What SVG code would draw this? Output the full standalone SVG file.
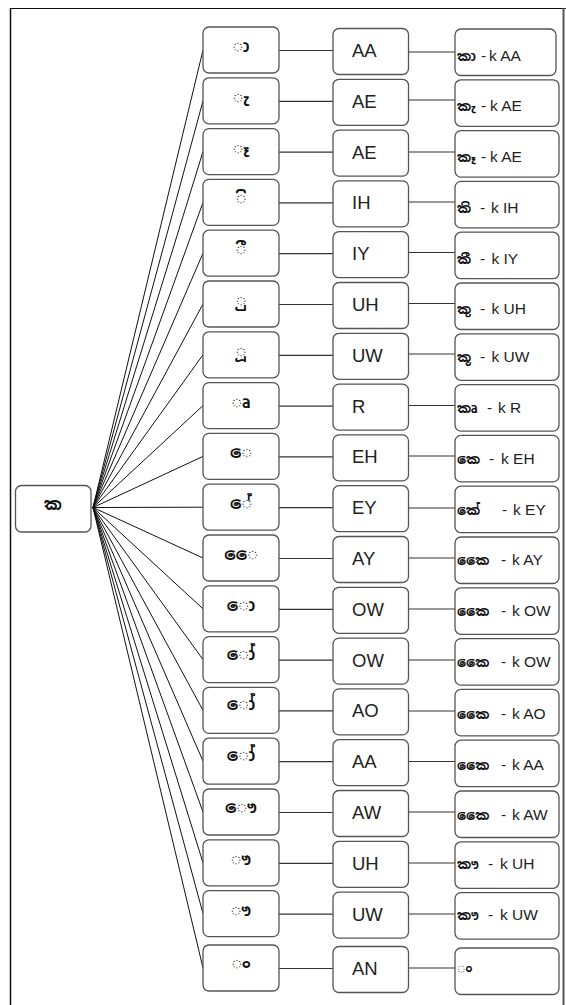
<svg xmlns="http://www.w3.org/2000/svg" width="566" height="1005" viewBox="0 0 566 1005">
<style>
.box{fill:#fff;stroke:#555;stroke-width:1.3}
.fan line{stroke:#111;stroke-width:1}
.link{stroke:#333;stroke-width:1.2}
.si{font-family:"Noto Sans Sinhala","Iskoola Pota","Noto Sans","DejaVu Sans",sans-serif;font-weight:bold;font-size:17px;text-anchor:middle;fill:#111}
.ph{font-family:"Liberation Sans",Arial,sans-serif;font-size:18.5px;fill:#222}
.ex{font-family:"Liberation Sans",Arial,sans-serif;font-size:15.5px;fill:#222}
.ex .s{font-family:"Noto Sans Sinhala","Iskoola Pota",sans-serif;font-size:13.5px;font-weight:bold;fill:#111}
</style>
<rect x="0" y="0" width="566" height="1005" fill="#fff"/>
<g id="frame">
<line x1="10" y1="8.5" x2="566" y2="8.5" stroke="#111" stroke-width="1.2"/>
<line x1="10.5" y1="8" x2="10.5" y2="1005" stroke="#111" stroke-width="1.5"/>
<line x1="563.5" y1="8" x2="563.5" y2="1005" stroke="#555" stroke-width="2"/>
</g>
<g id="connectors">
<g class="fan">
<line x1="93" y1="507.5" x2="203" y2="50"/>
<line x1="93" y1="507.5" x2="203" y2="100.8"/>
<line x1="93" y1="507.5" x2="203" y2="151.6"/>
<line x1="93" y1="507.5" x2="203" y2="202.4"/>
<line x1="93" y1="507.5" x2="203" y2="253.2"/>
<line x1="93" y1="507.5" x2="203" y2="304"/>
<line x1="93" y1="507.5" x2="203" y2="354.8"/>
<line x1="93" y1="507.5" x2="203" y2="405.6"/>
<line x1="93" y1="507.5" x2="203" y2="456.4"/>
<line x1="93" y1="507.5" x2="203" y2="507.2"/>
<line x1="93" y1="507.5" x2="203" y2="558"/>
<line x1="93" y1="507.5" x2="203" y2="608.8"/>
<line x1="93" y1="507.5" x2="203" y2="659.6"/>
<line x1="93" y1="507.5" x2="203" y2="710.4"/>
<line x1="93" y1="507.5" x2="203" y2="761.2"/>
<line x1="93" y1="507.5" x2="203" y2="812"/>
<line x1="93" y1="507.5" x2="203" y2="862.8"/>
<line x1="93" y1="507.5" x2="203" y2="913.6"/>
<line x1="93" y1="507.5" x2="203" y2="968"/>
</g>
<g class="link">
<line x1="279" y1="50.5" x2="333" y2="50.5"/><line x1="408.5" y1="52" x2="455" y2="52"/>
<line x1="279" y1="101.3" x2="333" y2="101.3"/><line x1="408.5" y1="100" x2="455" y2="100"/>
<line x1="279" y1="152.1" x2="333" y2="152.1"/><line x1="408.5" y1="152" x2="455" y2="152"/>
<line x1="279" y1="202.9" x2="333" y2="202.9"/><line x1="408.5" y1="202" x2="455" y2="202"/>
<line x1="279" y1="253.7" x2="333" y2="253.7"/><line x1="408.5" y1="252.5" x2="455" y2="252.5"/>
<line x1="279" y1="304.5" x2="333" y2="304.5"/><line x1="408.5" y1="303.5" x2="455" y2="303.5"/>
<line x1="279" y1="355.3" x2="333" y2="355.3"/><line x1="408.5" y1="354" x2="455" y2="354"/>
<line x1="279" y1="406.1" x2="333" y2="406.1"/><line x1="408.5" y1="405.5" x2="455" y2="405.5"/>
<line x1="279" y1="456.9" x2="333" y2="456.9"/><line x1="408.5" y1="456" x2="455" y2="456"/>
<line x1="279" y1="507.7" x2="333" y2="507.7"/><line x1="408.5" y1="508" x2="455" y2="508"/>
<line x1="279" y1="558.5" x2="333" y2="558.5"/><line x1="408.5" y1="558" x2="455" y2="558"/>
<line x1="279" y1="609.3" x2="333" y2="609.3"/><line x1="408.5" y1="609" x2="455" y2="609"/>
<line x1="279" y1="660.1" x2="333" y2="660.1"/><line x1="408.5" y1="660" x2="455" y2="660"/>
<line x1="279" y1="710.9" x2="333" y2="710.9"/><line x1="408.5" y1="711" x2="455" y2="711"/>
<line x1="279" y1="761.7" x2="333" y2="761.7"/><line x1="408.5" y1="761.5" x2="455" y2="761.5"/>
<line x1="279" y1="812.5" x2="333" y2="812.5"/><line x1="408.5" y1="812" x2="455" y2="812"/>
<line x1="279" y1="863.3" x2="333" y2="863.3"/><line x1="408.5" y1="863" x2="455" y2="863"/>
<line x1="279" y1="914.1" x2="333" y2="914.1"/><line x1="408.5" y1="914" x2="455" y2="914"/>
<line x1="279" y1="968.5" x2="333" y2="968.5"/><line x1="408.5" y1="968" x2="455" y2="968"/>
</g>
</g>
<g id="root"><rect class="box" x="15.5" y="485.5" width="75.5" height="46.5" rx="6"/><text class="si" x="53" y="510">ක</text></g>

<g id="v1"><rect class="box" x="203" y="27" width="76" height="46" rx="6"/><text class="si" x="241" y="52">ා</text></g>
<g id="v2"><rect class="box" x="203" y="77.8" width="76" height="46" rx="6"/><text class="si" x="241" y="102.8">ැ</text></g>
<g id="v3"><rect class="box" x="203" y="128.6" width="76" height="46" rx="6"/><text class="si" x="241" y="153.6">ෑ</text></g>
<g id="v4"><rect class="box" x="203" y="179.4" width="76" height="46" rx="6"/><text class="si" x="241" y="204.4">ි</text></g>
<g id="v5"><rect class="box" x="203" y="230.2" width="76" height="46" rx="6"/><text class="si" x="241" y="255.2">ී</text></g>
<g id="v6"><rect class="box" x="203" y="281" width="76" height="46" rx="6"/><text class="si" x="241" y="306">ු</text></g>
<g id="v7"><rect class="box" x="203" y="331.8" width="76" height="46" rx="6"/><text class="si" x="241" y="356.8">ූ</text></g>
<g id="v8"><rect class="box" x="203" y="382.6" width="76" height="46" rx="6"/><text class="si" x="241" y="407.6">ෘ</text></g>
<g id="v9"><rect class="box" x="203" y="433.4" width="76" height="46" rx="6"/><text class="si" x="241" y="458.4">ෙ</text></g>
<g id="v10"><rect class="box" x="203" y="484.2" width="76" height="46" rx="6"/><text class="si" x="241" y="509.2">ේ</text></g>
<g id="v11"><rect class="box" x="203" y="535" width="76" height="46" rx="6"/><text class="si" x="241" y="560">ෛ</text></g>
<g id="v12"><rect class="box" x="203" y="585.8" width="76" height="46" rx="6"/><text class="si" x="241" y="610.8">ො</text></g>
<g id="v13"><rect class="box" x="203" y="636.6" width="76" height="46" rx="6"/><text class="si" x="241" y="659.6">ෝ</text></g>
<g id="v14"><rect class="box" x="203" y="687.4" width="76" height="46" rx="6"/><text class="si" x="241" y="710.4">ෝ</text></g>
<g id="v15"><rect class="box" x="203" y="738.2" width="76" height="46" rx="6"/><text class="si" x="241" y="761.2">ෝ</text></g>
<g id="v16"><rect class="box" x="203" y="789" width="76" height="46" rx="6"/><text class="si" x="241" y="813">ෞ</text></g>
<g id="v17"><rect class="box" x="203" y="839.8" width="76" height="46" rx="6"/><text class="si" x="241" y="864.8">ෟ</text></g>
<g id="v18"><rect class="box" x="203" y="890.6" width="76" height="46" rx="6"/><text class="si" x="241" y="915.6">ෟ</text></g>
<g id="v19"><rect class="box" x="203" y="945" width="76" height="46" rx="6"/><text class="si" x="241" y="969">ං</text></g>

<g id="p1"><rect class="box" x="333" y="28.5" width="75.5" height="46" rx="6"/><text class="ph" x="352" y="57">AA</text></g>
<g id="p2"><rect class="box" x="333" y="79.3" width="75.5" height="46" rx="6"/><text class="ph" x="352" y="107.8">AE</text></g>
<g id="p3"><rect class="box" x="333" y="130.1" width="75.5" height="46" rx="6"/><text class="ph" x="352" y="158.6">AE</text></g>
<g id="p4"><rect class="box" x="333" y="180.9" width="75.5" height="46" rx="6"/><text class="ph" x="352" y="209.4">IH</text></g>
<g id="p5"><rect class="box" x="333" y="231.7" width="75.5" height="46" rx="6"/><text class="ph" x="352" y="260.2">IY</text></g>
<g id="p6"><rect class="box" x="333" y="282.5" width="75.5" height="46" rx="6"/><text class="ph" x="352" y="311">UH</text></g>
<g id="p7"><rect class="box" x="333" y="333.3" width="75.5" height="46" rx="6"/><text class="ph" x="352" y="361.8">UW</text></g>
<g id="p8"><rect class="box" x="333" y="384.1" width="75.5" height="46" rx="6"/><text class="ph" x="352" y="412.6">R</text></g>
<g id="p9"><rect class="box" x="333" y="434.9" width="75.5" height="46" rx="6"/><text class="ph" x="352" y="463.4">EH</text></g>
<g id="p10"><rect class="box" x="333" y="485.7" width="75.5" height="46" rx="6"/><text class="ph" x="352" y="514.2">EY</text></g>
<g id="p11"><rect class="box" x="333" y="536.5" width="75.5" height="46" rx="6"/><text class="ph" x="352" y="565">AY</text></g>
<g id="p12"><rect class="box" x="333" y="587.3" width="75.5" height="46" rx="6"/><text class="ph" x="352" y="615.8">OW</text></g>
<g id="p13"><rect class="box" x="333" y="638.1" width="75.5" height="46" rx="6"/><text class="ph" x="352" y="666.6">OW</text></g>
<g id="p14"><rect class="box" x="333" y="688.9" width="75.5" height="46" rx="6"/><text class="ph" x="352" y="717.4">AO</text></g>
<g id="p15"><rect class="box" x="333" y="739.7" width="75.5" height="46" rx="6"/><text class="ph" x="352" y="768.2">AA</text></g>
<g id="p16"><rect class="box" x="333" y="790.5" width="75.5" height="46" rx="6"/><text class="ph" x="352" y="819">AW</text></g>
<g id="p17"><rect class="box" x="333" y="841.3" width="75.5" height="46" rx="6"/><text class="ph" x="352" y="869.8">UH</text></g>
<g id="p18"><rect class="box" x="333" y="892.1" width="75.5" height="46" rx="6"/><text class="ph" x="352" y="920.6">UW</text></g>
<g id="p19"><rect class="box" x="333" y="946.5" width="75.5" height="46" rx="6"/><text class="ph" x="352" y="975">AN</text></g>

<g id="e1"><rect class="box" x="455" y="29" width="101" height="46.5" rx="6"/><text class="ex" x="457" y="61"><tspan class="s">කා</tspan> <tspan x="481">- </tspan><tspan x="489">k AA</tspan></text></g>
<g id="e2"><rect class="box" x="455" y="79.8" width="104" height="46.5" rx="6"/><text class="ex" x="457" y="110.5"><tspan class="s">කැ</tspan> <tspan x="481">- </tspan><tspan x="490">k AE</tspan></text></g>
<g id="e3"><rect class="box" x="455" y="130.6" width="104" height="46.5" rx="6"/><text class="ex" x="457" y="161.5"><tspan class="s">කෑ</tspan> <tspan x="481">- </tspan><tspan x="490">k AE</tspan></text></g>
<g id="e4"><rect class="box" x="455" y="181.4" width="104" height="46.5" rx="6"/><text class="ex" x="457" y="213"><tspan class="s">කි</tspan> <tspan x="480">- </tspan><tspan x="491">k IH</tspan></text></g>
<g id="e5"><rect class="box" x="455" y="232.2" width="104" height="46.5" rx="6"/><text class="ex" x="457" y="263.5"><tspan class="s">කී</tspan> <tspan x="480">- </tspan><tspan x="491.5">k IY</tspan></text></g>
<g id="e6"><rect class="box" x="455" y="283" width="104" height="46.5" rx="6"/><text class="ex" x="457" y="314"><tspan class="s">කු</tspan> <tspan x="480">- </tspan><tspan x="491.5">k UH</tspan></text></g>
<g id="e7"><rect class="box" x="455" y="333.8" width="104" height="46.5" rx="6"/><text class="ex" x="457" y="362"><tspan class="s">කූ</tspan> <tspan x="480">- </tspan><tspan x="491.5">k UW</tspan></text></g>
<g id="e8"><rect class="box" x="455" y="384.6" width="104" height="46.5" rx="6"/><text class="ex" x="457" y="412.5"><tspan class="s">කෘ</tspan> <tspan x="487">- </tspan><tspan x="498">k R</tspan></text></g>
<g id="e9"><rect class="box" x="455" y="435.4" width="104" height="46.5" rx="6"/><text class="ex" x="457" y="464"><tspan class="s">කෙ</tspan> <tspan x="489">- </tspan><tspan x="501">k EH</tspan></text></g>
<g id="e10"><rect class="box" x="455" y="486.2" width="104" height="46.5" rx="6"/><text class="ex" x="457" y="515"><tspan class="s">කේ</tspan> <tspan x="502">- </tspan><tspan x="513">k EY</tspan></text></g>
<g id="e11"><rect class="box" x="455" y="537" width="104" height="46.5" rx="6"/><text class="ex" x="457" y="565"><tspan class="s">කෛ</tspan> <tspan x="501">- </tspan><tspan x="512">k AY</tspan></text></g>
<g id="e12"><rect class="box" x="455" y="587.8" width="104" height="46.5" rx="6"/><text class="ex" x="457" y="615.5"><tspan class="s">කෛ</tspan> <tspan x="501">- </tspan><tspan x="512">k OW</tspan></text></g>
<g id="e13"><rect class="box" x="455" y="638.6" width="104" height="46.5" rx="6"/><text class="ex" x="457" y="667"><tspan class="s">කෛ</tspan> <tspan x="501">- </tspan><tspan x="512">k OW</tspan></text></g>
<g id="e14"><rect class="box" x="455" y="689.4" width="104" height="46.5" rx="6"/><text class="ex" x="457" y="719"><tspan class="s">කෛ</tspan> <tspan x="501">- </tspan><tspan x="512">k AO</tspan></text></g>
<g id="e15"><rect class="box" x="455" y="740.2" width="104" height="46.5" rx="6"/><text class="ex" x="457" y="769.5"><tspan class="s">කෛ</tspan> <tspan x="501">- </tspan><tspan x="512">k AA</tspan></text></g>
<g id="e16"><rect class="box" x="455" y="791" width="104" height="46.5" rx="6"/><text class="ex" x="457" y="820"><tspan class="s">කෛ</tspan> <tspan x="501">- </tspan><tspan x="512">k AW</tspan></text></g>
<g id="e17"><rect class="box" x="455" y="841.8" width="104" height="46.5" rx="6"/><text class="ex" x="457" y="869"><tspan class="s">කෟ</tspan> <tspan x="488">- </tspan><tspan x="500">k UH</tspan></text></g>
<g id="e18"><rect class="box" x="455" y="892.6" width="104" height="46.5" rx="6"/><text class="ex" x="457" y="919.5"><tspan class="s">කෟ</tspan> <tspan x="488">- </tspan><tspan x="500">k UW</tspan></text></g>
<g id="e19"><rect class="box" x="455" y="948" width="104" height="46.5" rx="6"/><text class="ex" x="457" y="973"><tspan class="s">ං</tspan></text></g>
</svg>
